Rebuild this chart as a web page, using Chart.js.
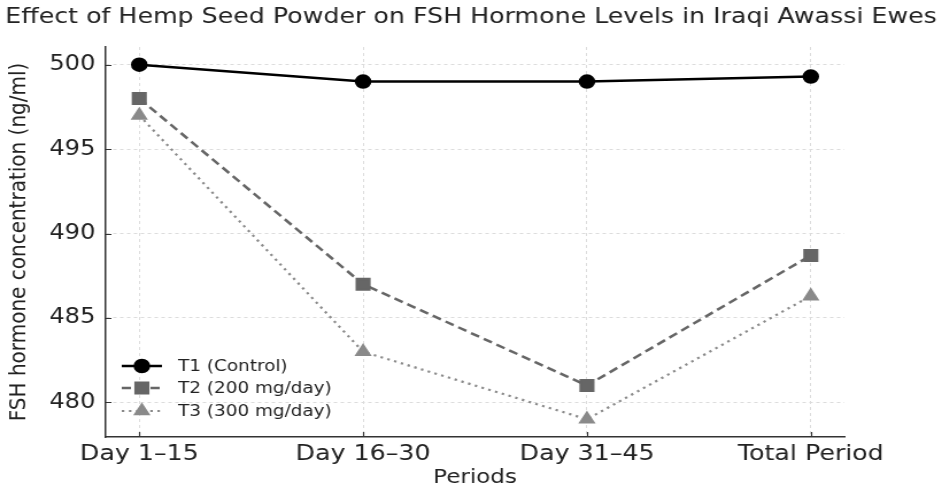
<!DOCTYPE html>
<html>
<head>
<meta charset="utf-8">
<script src="https://cdn.jsdelivr.net/npm/chart.js@4.4.1/dist/chart.umd.min.js"></script>
<style>
  html, body { margin: 0; padding: 0; background: #fff; overflow: hidden; }
  /* the reference is a slightly widened render, so draw narrower and stretch */
  #wrap { width: 820px; height: 489px; transform: scaleX(1.1488); transform-origin: 0 0; }
</style>
</head>
<body>
<div id="wrap"><canvas id="chart" width="820" height="489"></canvas></div>
<script>
// data
const periods = ['Day 1–15', 'Day 16–30', 'Day 31–45', 'Total Period'];
const t1Control = [500, 499, 499, 499.3];
const t2Dose200 = [498, 487, 481, 488.7];
const t3Dose300 = [497, 483, 479, 486.3];
const yTicks = [480, 485, 490, 495, 500];

const FONT = 'DejaVu Sans';
const toPoints = arr => arr.map((v, i) => ({ x: i, y: v }));

// ticks point inward in the reference
const innerTicks = {
  id: 'innerTicks',
  afterDraw(chart) {
    const { ctx, chartArea: a, scales: { x, y } } = chart;
    ctx.save();
    ctx.strokeStyle = '#333';
    ctx.lineWidth = 1.2;
    ctx.beginPath();
    yTicks.forEach(v => {
      const py = Math.round(y.getPixelForValue(v)) + 0.5;
      ctx.moveTo(a.left, py); ctx.lineTo(a.left + 5, py);
    });
    periods.forEach((p, i) => {
      const px = Math.round(x.getPixelForValue(i)) + 0.5;
      ctx.moveTo(px, a.bottom); ctx.lineTo(px, a.bottom - 5);
    });
    ctx.stroke();
    ctx.restore();
  }
};

// legend sits inside the plot, lower left, no frame
const insideLegend = {
  id: 'insideLegend',
  afterDraw(chart) {
    const { ctx } = chart;
    const rowsY = [366, 388, 411];
    ctx.save();
    chart.data.datasets.forEach((ds, i) => {
      const y = rowsY[i];
      ctx.strokeStyle = ds.borderColor;
      ctx.lineWidth = ds.borderWidth;
      ctx.setLineDash(ds.borderDash || []);
      ctx.beginPath();
      ctx.moveTo(106, y); ctx.lineTo(141, y);
      ctx.stroke();
      ctx.setLineDash([]);
      ctx.fillStyle = ds.pointBackgroundColor;
      ctx.strokeStyle = ds.pointBackgroundColor;
      Chart.helpers.drawPoint(ctx, { pointStyle: ds.pointStyle, radius: ds.pointRadius, rotation: 0, borderWidth: 1 }, 123.5, y);
      ctx.fillStyle = '#222';
      ctx.font = '16px "' + FONT + '"';
      ctx.textBaseline = 'middle';
      ctx.fillText(ds.label, 155, y + 1);
    });
    ctx.restore();
  }
};

new Chart(document.getElementById('chart'), {
  type: 'line',
  data: {
    datasets: [
      { label: 'T1 (Control)', data: toPoints(t1Control), borderColor: '#000', borderWidth: 2.5,
        pointStyle: 'circle', pointRadius: 6, pointBackgroundColor: '#000', pointBorderColor: '#000' },
      { label: 'T2 (200 mg/day)', data: toPoints(t2Dose200), borderColor: '#666', borderWidth: 2.5, borderDash: [8, 4.5],
        pointStyle: 'rect', pointRadius: 7.5, pointBackgroundColor: '#666', pointBorderColor: '#666' },
      { label: 'T3 (300 mg/day)', data: toPoints(t3Dose300), borderColor: '#8a8a8a', borderWidth: 2.2, borderDash: [2.2, 4],
        pointStyle: 'triangle', pointRadius: 6.5, pointBackgroundColor: '#8a8a8a', pointBorderColor: '#8a8a8a' }
    ]
  },
  options: {
    responsive: false,
    animation: false,
    devicePixelRatio: 1,
    layout: { padding: 0 },
    plugins: {
      legend: { display: false },
      tooltip: { enabled: false },
      title: {
        display: true,
        text: 'Effect of Hemp Seed Powder on FSH Hormone Levels in Iraqi Awassi Ewes',
        color: '#222',
        font: { family: FONT, size: 22, weight: 'normal' },
        padding: { top: 4, bottom: 16.6 }
      }
    },
    scales: {
      x: {
        type: 'linear',
        min: -0.15, max: 3.15,
        afterBuildTicks: s => { s.ticks = periods.map((p, i) => ({ value: i })); },
        afterFit: s => { s.height = 52; },
        ticks: { callback: v => periods[v], color: '#222', padding: 4, maxRotation: 0,
                 font: { family: FONT, size: 22 } },
        grid: { color: '#dcdcdc', lineWidth: 1, drawTicks: false },
        border: { display: true, color: '#333', width: 1.5, dash: [3, 3] },
        title: { display: true, text: 'Periods', color: '#222', padding: { top: 0, bottom: -1 },
                 font: { family: FONT, size: 20 } }
      },
      y: {
        min: 477.95, max: 501.05,
        afterBuildTicks: s => { s.ticks = yTicks.map(v => ({ value: v })); },
        afterFit: s => { s.width = 92; },
        ticks: { color: '#222', padding: 9, font: { family: FONT, size: 21 } },
        grid: { color: '#dcdcdc', lineWidth: 1, drawTicks: false },
        border: { display: true, color: '#333', width: 1.5, dash: [3, 3] },
        title: { display: true, text: 'FSH hormone concentration (ng/ml)', color: '#222',
                 padding: { top: 5, bottom: 0 }, font: { family: FONT, size: 20 } }
      },
      // empty right-hand space so the plot ends where the reference's does
      yRight: {
        type: 'linear', position: 'right', display: true,
        afterFit: s => { s.width = 85; },
        ticks: { display: false },
        grid: { display: false, drawTicks: false },
        border: { display: false }
      }
    }
  },
  plugins: [innerTicks, insideLegend]
});
</script>
</body>
</html>
